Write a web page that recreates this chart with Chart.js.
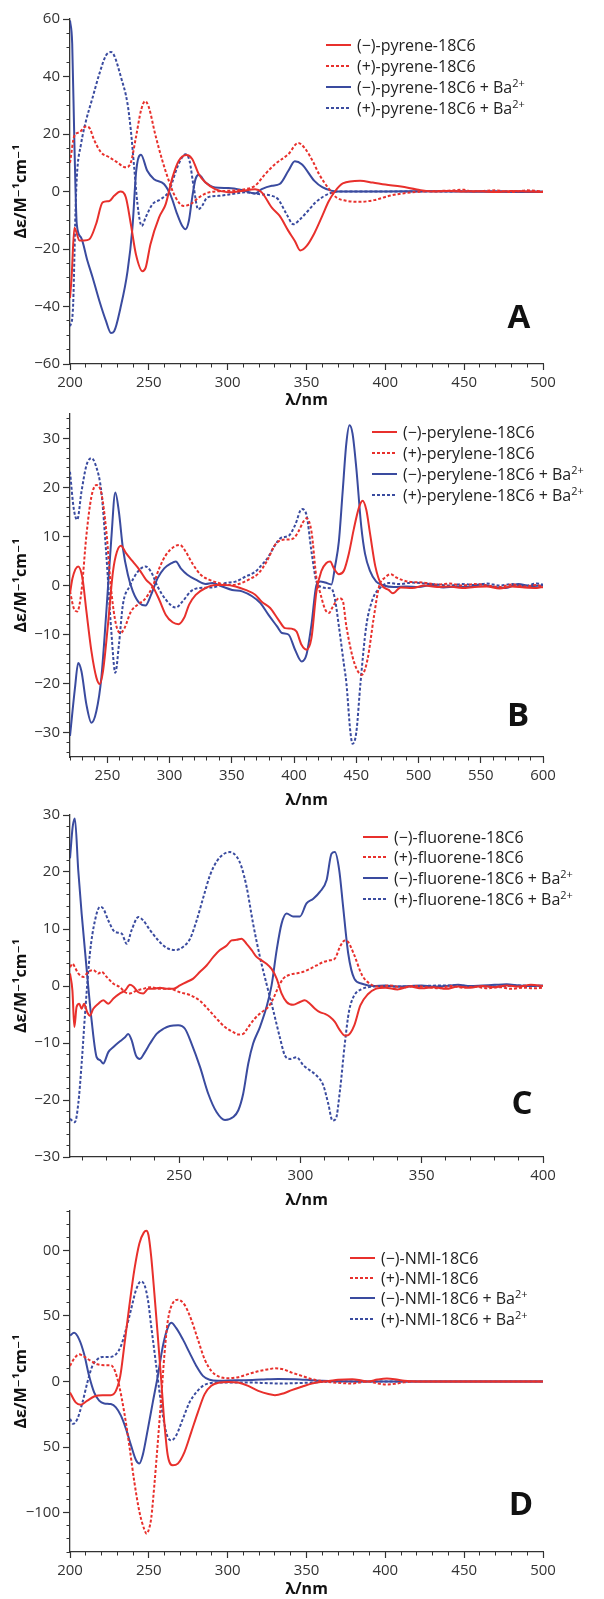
<!DOCTYPE html>
<html>
<head>
<meta charset="utf-8">
<title>CD spectra of the 18C6 hosts</title>
<script src="https://cdn.jsdelivr.net/npm/chart.js@4.4.1/dist/chart.umd.min.js"></script>
<style>
  html, body { margin: 0; padding: 0; background: #fff; }
  body { width: 604px; height: 1599px; position: relative; overflow: hidden; font-family: "Open Sans", "DejaVu Sans", sans-serif; }
  .panel { position: absolute; left: 0; width: 604px; }
  .panel canvas { display: block; }
  .legend-row { position: absolute; white-space: nowrap; display: flex; align-items: center; height: 20px; transform: translateY(-50%); font-size: 16px; color: #222; }
  .legend-row svg { margin-right: 6px; flex: none; }
  .legend-row sup { font-size: 11px; vertical-align: 6px; line-height: 0; }
  .tag { position: absolute; font-weight: 700; font-size: 33px; line-height: 1; color: #111; transform: translate(-50%, -50%); }
</style>
</head>
<body>
<div id="root"></div>
<script>
// CD spectra, four panels (A pyrene, B perylene, C fluorene, D NMI).
// Values: [wavelength nm, delta-epsilon].

const A_LABELS = ['(−)-pyrene-18C6', '(+)-pyrene-18C6', '(−)-pyrene-18C6 + Ba2+', '(+)-pyrene-18C6 + Ba2+'];
const B_LABELS = ['(−)-perylene-18C6', '(+)-perylene-18C6', '(−)-perylene-18C6 + Ba2+', '(+)-perylene-18C6 + Ba2+'];
const C_LABELS = ['(−)-fluorene-18C6', '(+)-fluorene-18C6', '(−)-fluorene-18C6 + Ba2+', '(+)-fluorene-18C6 + Ba2+'];
const D_LABELS = ['(−)-NMI-18C6', '(+)-NMI-18C6', '(−)-NMI-18C6 + Ba2+', '(+)-NMI-18C6 + Ba2+'];

// labelled ticks
const A_XTICKS = [200, 250, 300, 350, 400, 450, 500];
const A_YTICKS = [-60, -40, -20, 0, 20, 40, 60];
const B_XTICKS = [250, 300, 350, 400, 450, 500, 550, 600];
const B_YTICKS = [-30, -20, -10, 0, 10, 20, 30];
const C_XTICKS = [250, 300, 350, 400];
const C_YTICKS = [-30, -20, -10, 0, 10, 20, 30];
const D_XTICKS = [200, 250, 300, 350, 400, 450, 500];
const D_YTICKS = [-100, -50, 0, 50, 100];

// --- panel A: pyrene ---
const A_NEG = [[200,-37],[201,-30],[202.8,-12.6],[206,-17],[209,-17],[212.3,-16.6],[216.5,-11.4],[220.7,-3.8],[225,-3.3],[228,-1.5],[232,0],[235.4,-2],[238.6,-11.4],[241.8,-21.8],[246,-27.7],[248,-26.5],[251,-18.4],[256.5,-9],[260.7,-4.4],[265,4.9],[269,10.7],[274,12.7],[277.5,11.3],[281.7,6],[286,3.1],[292,0.8],[300.6,-0.3],[309,0.2],[317.4,0.8],[321.6,-0.3],[328,-5.6],[333,-8.5],[338.5,-13.7],[342.6,-17.2],[346,-20.5],[350,-19],[355,-14.5],[360,-8.5],[364,-3.5],[368,0],[373,2.8],[384,3.7],[392,3.1],[400,2.4],[410,1.7],[420,0.7],[430,0],[440,0.2],[450,0],[460,0.1],[470,-0.2],[480,0.2],[490,0],[500,-0.2]];
const A_POS = [[200,10],[202.8,19.4],[206,20.6],[210,22.6],[212,22.3],[215.5,17.7],[219.7,13.6],[225,11.9],[230,10.1],[235.4,8.4],[238.6,10.1],[241.8,18.8],[245,28.1],[247.6,31.4],[250,29.3],[254,20],[258.6,10.7],[262.7,3.7],[267,-2.1],[272,-5],[276.4,-4.4],[281.7,-2.1],[288,-0.3],[298.5,0.2],[311,0.8],[317.4,2],[323.7,6],[330,9.5],[338.5,13],[344.8,16.9],[349,15],[354,10.5],[358,6],[364.4,0.8],[369,-2.1],[375,-3.2],[383,-3.6],[393,-3],[402.5,-1.5],[412,-0.6],[424.5,0],[440,0.3],[450,0.6],[455,0],[470,0.4],[480,-0.2],[490,0.4],[500,0]];
const A_NEG_BA = [[200,59.5],[201.4,51.4],[202.8,16.5],[204.3,-11.4],[207,-16],[211,-24],[214.4,-30],[218.6,-38],[222.8,-45],[226,-49.2],[228,-48.6],[232,-40.5],[236.5,-27.7],[239.6,-12.6],[242,7.2],[245,12.8],[249,7.2],[253.3,4.3],[259.6,2.6],[264,-1.5],[268,-7.9],[271.2,-12],[273.3,-13.1],[275.4,-10.2],[277.5,-2.1],[279.6,4.3],[281.7,5.8],[286,3.1],[292,1.4],[300.6,1.2],[309,0.5],[317.4,-0.7],[321.6,0.8],[328,2],[333,2.6],[338.5,7.2],[342.6,10.5],[347,9.5],[355,3.7],[360,1.5],[365.6,0.3],[370,0],[400,0],[430,0.1],[460,-0.1],[500,-0.2]];
const A_POS_BA = [[200,-46.9],[201.8,-41.6],[203.5,-6.7],[204.3,4.9],[207,16.5],[210.2,24.7],[214.4,32.8],[218.6,40.9],[222.8,47.3],[226,48.5],[228,47.3],[232.3,39.8],[236.5,30.5],[238.6,21.2],[240.7,8.4],[242.8,-4.4],[245.5,-12],[248,-9],[252.3,-4.4],[257.5,-2.7],[262.8,0.2],[268,8.4],[271.2,11.9],[273.3,13],[275.8,10.7],[278.5,1.4],[281.3,-6.2],[283.8,-5],[287,-2.1],[294.3,-1.5],[302.8,-0.9],[311,-0.3],[319.6,-0.9],[328,-1.5],[332,-2.7],[337.4,-7.9],[341.6,-11.4],[345.8,-9.7],[351,-6.7],[355.3,-4],[360,-2],[365,-0.6],[370,0],[400,0],[430,0],[460,0.1],[500,0]];

// --- panel B: perylene ---
const B_NEG = [[220,-1.6],[222,1.5],[226.6,3.9],[230,1.5],[233.2,-5.3],[237.2,-13.4],[241.2,-18.8],[243.9,-20.1],[246.5,-17.5],[250.5,-8],[254.5,2.8],[257.7,6.9],[261,8.1],[265,6.6],[270.4,4.9],[275.8,3.2],[281,1.2],[286.4,-0.2],[291.7,-2.9],[297,-6],[302.4,-7.5],[307.2,-7.9],[311.7,-6.6],[315.7,-3.9],[321,-1.9],[329,-0.5],[337,0.1],[345,0.1],[353,-0.2],[361,-0.9],[368.8,-1.9],[374,-3.3],[380.8,-4.6],[387.5,-7],[392.8,-8.7],[398,-8.8],[402,-9.4],[406,-12.1],[410,-13.1],[414,-10.7],[418,-1.2],[422,3],[426,4.6],[429,4.9],[432,3.5],[436,2.3],[440,3],[444,6.5],[448,11.5],[452,15.8],[455,17.3],[458,15.5],[461,10.7],[465.3,3.9],[470,0.2],[476,-0.9],[479.4,-1.6],[485.6,-0.4],[495,-0.5],[505,0],[515,-0.3],[525,-0.2],[535,-0.5],[545,-0.3],[555,-0.2],[565,-0.6],[575,-0.2],[585,-0.4],[595,-0.5],[600,-0.3]];
const B_POS = [[220,-1.2],[223,-4.6],[225.8,-5.3],[229.2,-1.2],[233.2,10.3],[237.2,18.1],[241.2,20.5],[245.2,18.8],[249.2,11],[253.2,-1.2],[257,-8],[260.6,-9.7],[263.8,-8.7],[269,-5.3],[274.4,-3.9],[279.8,-2.9],[286.4,-0.2],[291.7,3.5],[297,6.2],[303.6,7.9],[308.2,8.3],[313,6.9],[318.3,4.5],[325,2.2],[331.6,1.2],[339.6,0.5],[347.6,0.1],[355.5,0.3],[363.5,1.2],[371.5,2.5],[378,4.9],[384.8,8.3],[390,9.3],[395.5,9.4],[399.5,9.6],[403.5,11],[407.4,13],[410,13.7],[414,11],[418,1.5],[421,-1.5],[425,-4.9],[428,-5.6],[431.2,-4.3],[436,-2.6],[439,-3],[442,-8.3],[448.4,-15.8],[454.5,-18.2],[459,-15.1],[464,-6.6],[468.4,-0.1],[473,1.6],[477.7,2.3],[482.4,1.6],[491.6,0.8],[504,0.6],[515,0.2],[525,0.4],[535,0],[545,0.3],[555,0],[565,-0.3],[575,0.2],[585,-0.2],[595,0.1],[600,-0.4]];
const B_NEG_BA = [[220,-30.7],[224,-20.9],[226.6,-15.8],[229.2,-17.5],[233.2,-24.3],[237.2,-28],[241.2,-25.6],[245.2,-18.8],[249.2,-5.3],[253.2,9.6],[256.4,19],[259.3,15],[262.5,7.6],[266.5,2.2],[270.5,-1.2],[275.8,-3.6],[280.6,-4.1],[285.1,-1.9],[290.4,1.5],[295.7,3.5],[301,4.5],[305,4.9],[309,3.5],[314.3,2.2],[321,1.2],[329,0.3],[334.3,0.5],[342.3,-0.2],[350.3,-0.9],[358.3,-1.2],[366.3,-2.2],[373,-3.6],[379.5,-6],[386.2,-8.3],[390.3,-9.7],[395.5,-10],[400.8,-13.1],[406.2,-15.5],[410,-14.1],[414,-8],[418,0.1],[421,0.8],[425,0.6],[430,0.2],[433,4],[436,9],[439,19],[442,29],[444.5,32.7],[447,31],[450,24],[454,12],[457,6.5],[461,3],[466,0.8],[472,0],[480,-0.3],[490,-0.2],[500,-0.3],[510,0.1],[520,-0.4],[530,-0.2],[540,-0.3],[550,0.2],[560,-0.3],[570,-0.5],[580,0.3],[590,-0.1],[600,0]];
const B_POS_BA = [[220,23.2],[223,15.7],[225.8,13.4],[229.2,19.1],[233.2,24.5],[237.2,26],[240.7,24.5],[245.2,19.1],[249.2,6.2],[253.2,-9.4],[256.4,-17.8],[259.3,-12.1],[262.5,-3.9],[267.8,-0.2],[274.4,2.8],[280.6,3.9],[285.1,2.8],[290.4,-0.2],[297,-2.9],[305,-4.5],[310.3,-3.3],[317,-1.2],[323.6,-0.5],[334.3,-0.4],[345,0.5],[353,0.8],[361,1.8],[368.8,2.8],[374,4.2],[379.5,5.9],[384.8,8.3],[390,9.8],[395.5,10.1],[400.8,12.3],[406.2,15.6],[410,14.4],[414,6.9],[418,0.8],[422,-0.3],[426,-0.5],[430,-0.6],[433,-3],[436,-8.3],[440,-16],[442,-19.8],[445.3,-30],[447,-32.3],[450,-30],[453.4,-19.8],[458,-8.3],[463,-2.9],[469,-0.5],[476,0.5],[485,0.3],[495,0.6],[505,0.4],[515,0.2],[525,0],[535,0.3],[545,0.1],[555,0.4],[565,0],[575,0.3],[585,-0.1],[595,0.4],[600,0.2]];

// --- panel C: fluorene ---
const C_NEG = [[205,2.2],[206,-0.8],[206.8,-7.2],[207.7,-3.7],[208.8,-3.1],[209.8,-4],[210.8,-3.1],[212.1,-4.6],[213.2,-5.2],[214.6,-4],[216.7,-3.1],[218.7,-2.5],[220.8,-3.1],[222.9,-2.2],[225.6,-1.3],[227.7,-0.8],[229.7,0.2],[231.1,-0.1],[233.2,-1.1],[235.2,-1.3],[237.3,-0.5],[239.3,-0.5],[242.1,-0.3],[244.8,-0.5],[247.6,-0.5],[250.3,0.1],[253.1,0.7],[255.8,1.3],[258.6,2.5],[261.3,3.6],[264.1,5.1],[266.8,6.3],[269.6,7.1],[271.6,8],[273.7,8.1],[275.7,8.3],[277.8,7.4],[279.9,6.3],[281.9,5.1],[284,4.5],[286,3.9],[288.1,3],[290.2,1.3],[292.2,-1.3],[294.3,-2.8],[297,-3.3],[299.8,-2.8],[301.8,-2.5],[303.9,-3.1],[306,-4],[308,-4.6],[310.1,-4.9],[312.1,-5.4],[314.2,-6.3],[316.3,-7.8],[318.3,-8.7],[319.7,-8.6],[322.2,-6.9],[324.7,-3.4],[327.9,-1.4],[331,-0.5],[335,-0.3],[340,-0.6],[345,-0.1],[350,-0.4],[355,-0.2],[360,-0.5],[365,-0.1],[370,-0.3],[375,0],[380,-0.2],[385,0.1],[390,-0.1],[395,0.2],[400,0]];
const C_POS = [[205,3.3],[206.1,3.9],[207,3.3],[208.4,2.2],[210.5,1.6],[212.6,2.5],[214.6,2.8],[216.7,2.2],[218,2.5],[220.1,1.6],[222.9,0.4],[225.6,-0.2],[227.7,-1.1],[229.7,-1.3],[232.5,-0.8],[235.2,-0.5],[238,-0.2],[242.1,-0.5],[246.2,-0.5],[250.3,-1.1],[254.5,-1.6],[258.6,-2.6],[262,-4.1],[265.4,-5.7],[268.9,-7.2],[272.3,-8.1],[274.4,-8.5],[276.4,-8.4],[278.5,-7.2],[281.2,-5.7],[284,-4.6],[286.7,-3.7],[288.8,-2.2],[290.9,-0.2],[292.9,1.3],[295.7,2],[298.4,2.2],[301.2,2.5],[303.9,3],[306.6,3.6],[309.4,4.2],[312.1,4.5],[314.2,4.8],[316.3,6.9],[318.3,8],[319.7,7.7],[322.2,5.4],[325.4,1.9],[328.6,0.4],[332,-0.1],[337,0.1],[342,-0.3],[347,0],[352,-0.2],[357,-0.4],[362,0],[367,-0.3],[372,-0.1],[377,-0.4],[382,-0.2],[387,-0.5],[392,-0.3],[396,-0.4],[400,-0.3]];
const C_NEG_BA = [[205,22.4],[206.1,27.9],[207,29.4],[208.4,20.3],[209.8,12.7],[211.9,2.8],[213.9,-6],[216,-12.5],[217.4,-13],[218.7,-13.6],[220.8,-11.6],[222.9,-10.7],[225.6,-9.7],[227.7,-9],[229,-8.4],[230.4,-9.5],[232.2,-12.2],[233.8,-12.8],[235.9,-11.6],[238,-10.1],[240.7,-8.4],[243.5,-7.5],[246.2,-7],[249.6,-6.9],[252.4,-7.5],[255.1,-10.1],[258.6,-14.2],[262,-18.9],[265.4,-22.1],[268.9,-23.5],[272.3,-23],[274.4,-21.8],[276.4,-18.9],[278.5,-13.6],[280.5,-10.1],[283.3,-7.2],[286,-3.7],[288.1,0.1],[290.2,6.3],[292.2,10.9],[294.3,12.7],[297,12.2],[299.8,12.2],[302.5,14.5],[305.3,15.3],[308,16.5],[310.8,18.6],[312.8,23.2],[314.2,23.5],[316,20.3],[317.6,13.9],[319.7,5.7],[322.2,1.3],[325.4,0.4],[330,0],[335,0.1],[340,-0.1],[345,0],[350,0.1],[355,-0.1],[360,0],[365,0.2],[370,0],[375,0.1],[380,0.2],[385,0.3],[390,0.1],[395,0],[400,0.1]];
const C_POS_BA = [[205,-23.3],[207,-23.9],[208.4,-20.7],[209.8,-13.6],[211.2,-4.9],[213.2,5.7],[215.3,11.5],[217.4,13.9],[218.7,13.6],[220.8,11.5],[223.5,9.5],[226.3,9.2],[228.4,7.4],[230.4,9.8],[233.2,12.1],[235.2,11.5],[238,9.8],[241.4,8],[244.8,6.7],[248.3,6.3],[251.7,6.9],[254.5,8.3],[257.2,11.5],[260,15.6],[262.7,19.4],[265.4,21.8],[268.2,23.1],[270.9,23.5],[273.7,22.7],[275.7,20.9],[277.8,17.4],[280.5,10.9],[283.3,5.1],[286,0.4],[288.8,-4.3],[291.5,-9],[293.6,-12.2],[295.7,-12.8],[298.4,-12.5],[301.2,-13.9],[303.9,-14.8],[306.6,-15.7],[309.4,-17.4],[311.5,-20.7],[313.2,-23.6],[314.6,-23.3],[316.3,-18.3],[318.3,-10.1],[320,-4.5],[322,-1.8],[325,-0.6],[330,-0.1],[335,0],[340,-0.1],[350,0],[360,0.1],[370,0],[380,-0.1],[390,0.1],[400,0]];

// --- panel D: NMI ---
const D_NEG = [[200,-8.3],[203.6,-15.9],[206.8,-17.7],[211,-14.6],[215.3,-11.4],[220.6,-10.4],[225.9,-10.4],[229.1,-7.1],[231.9,4.3],[234.4,27],[237.6,57.3],[240.8,85.1],[244,105.3],[246.8,113.5],[248.4,115],[249.8,111.5],[251.5,95.2],[253.5,67.4],[255.7,34.6],[257.8,1.8],[260,-33.6],[262,-56.3],[265.2,-63.9],[268.4,-62.6],[272.6,-53.8],[276.9,-38.6],[281.1,-23.5],[285.4,-9.6],[289.6,-3.3],[295,-0.8],[300.2,-0.3],[306.6,-0.8],[313,-3.3],[319.4,-7.1],[325.8,-9.6],[330,-10.4],[335.3,-9.1],[340.6,-6.6],[347,-4],[353.4,-1.5],[358.7,-0.3],[364,0.3],[370,1.3],[379,1.8],[385,0.8],[389,0],[395,1.5],[401,2.3],[406,1.8],[412,0.6],[420,0],[450,0],[500,0]];
const D_POS = [[200,11.9],[202.6,17.4],[205.8,20.7],[209,18.9],[213.2,15.7],[217.4,13.1],[221.7,12.4],[225.9,12.4],[228.5,8.1],[231.2,-3.3],[234.4,-23.5],[237.6,-48.7],[240.8,-76.5],[244,-99.2],[247.2,-113],[248.6,-116],[250.2,-112],[251.5,-104.3],[253.5,-79],[255.7,-46.2],[257.8,-13.4],[260,22],[262,46],[265.2,59.8],[268.4,62.4],[272.6,58.6],[276.9,47.2],[281.1,32.1],[285.4,16.9],[289.6,8.1],[295,3.5],[300.2,2.5],[306.6,3.3],[313,5.6],[319.4,7.8],[325.8,9.3],[330,10.1],[335.3,9.3],[340.6,6.8],[347,4.3],[353.4,1.8],[358.7,0.5],[364,-0.3],[370,-1],[379,-1.5],[385,-0.5],[389,0],[395,-1.5],[401,-2.3],[406,-1.8],[412,-0.6],[420,0],[450,0],[500,0]];
const D_NEG_BA = [[200,35.1],[202.6,37.1],[205.8,32.1],[209,20.7],[212.1,4.3],[215.3,-8.3],[218.5,-14.6],[221.7,-16.7],[225.9,-17.2],[229.1,-19.7],[232.3,-26],[235.5,-36.1],[238.7,-48.7],[241.9,-60.1],[244,-62.6],[246.1,-56.3],[249.4,-36.1],[252.5,-15.9],[255.7,4.3],[258.9,27],[261.6,39.6],[264.2,44.7],[267.3,40.9],[271.6,32.1],[275.8,22],[280.1,11.9],[284.3,4.3],[288.5,1.3],[293.9,0.5],[300.2,0.8],[310.8,1],[321.4,1.5],[332,2],[342.7,1.8],[353.4,1],[360,0.5],[370,0.2],[400,0],[450,0],[500,0]];
const D_POS_BA = [[200,-28.5],[202,-32.3],[204.7,-28.5],[207.9,-15.9],[211,-0.8],[214.2,11.9],[217.4,16.9],[220.6,18.7],[224.9,18.7],[229.1,20.7],[232.3,27],[235.5,39.6],[238.7,54.8],[241.9,69.9],[245,76.3],[247.2,73.7],[249.4,62.4],[251.5,42.2],[254.7,11.9],[256.8,-8.3],[258.9,-26],[261.6,-41.2],[264.2,-44.9],[267.3,-41.2],[271.6,-28.5],[275.8,-15.9],[280.1,-8.3],[284.3,-3.3],[288.5,-1.3],[293.9,-0.8],[304.5,-0.8],[315,-0.8],[325.8,-1.3],[334.2,-1.5],[342.7,-1.3],[353.4,-0.8],[360,-0.3],[370,0],[400,0],[450,0],[500,0]];

const RED = '#e8302c';
const BLUE = '#3a4b9f';
const AXIS = '#333333';
const TICK_TEXT = '#333333';
const SERIES_STYLE = [
  { color: RED, dash: [] },
  { color: RED, dash: [3, 2] },
  { color: BLUE, dash: [] },
  { color: BLUE, dash: [3, 2] }
];

// layout of the four stacked panels (page pixels)
const PANELS = [
  { id: 'A', top: 0, height: 410, area: [19, 364], x: [200, 500], y: [-60, 60],
    xTicks: A_XTICKS, yTicks: A_YTICKS, yMinor: 5,
    series: [A_NEG, A_POS, A_NEG_BA, A_POS_BA], labels: A_LABELS,
    legendX: 326, legendY: [45, 66, 87, 108], tag: [519, 315] },
  { id: 'B', top: 400, height: 410, area: [414, 757], x: [220, 600], y: [-35, 35],
    xTicks: B_XTICKS, yTicks: B_YTICKS, yMinor: 2,
    series: [B_NEG, B_POS, B_NEG_BA, B_POS_BA], labels: B_LABELS,
    legendX: 372, legendY: [432, 453, 474, 495], tag: [518, 713] },
  { id: 'C', top: 800, height: 410, area: [815, 1157], x: [205, 400], y: [-30, 30],
    xTicks: C_XTICKS, yTicks: C_YTICKS, yMinor: 2,
    series: [C_NEG, C_POS, C_NEG_BA, C_POS_BA], labels: C_LABELS,
    legendX: 363, legendY: [837, 857, 878, 899], tag: [522, 1101] },
  { id: 'D', top: 1199, height: 400, area: [1209, 1552], x: [200, 500], y: [-130, 130],
    xTicks: D_XTICKS, yTicks: D_YTICKS, yMinor: 10,
    series: [D_NEG, D_POS, D_NEG_BA, D_POS_BA], labels: D_LABELS,
    legendX: 350, legendY: [1258, 1278, 1298, 1319], tag: [521, 1502], clip: true }
];

const PLOT_LEFT = 70;
const PLOT_RIGHT = 543;
const X_MINOR = 10;

Chart.defaults.font.family = '"Open Sans", "DejaVu Sans", sans-serif';
Chart.defaults.color = TICK_TEXT;

const minusSign = v => String(v).replace('-', '\u2212');

// explicit tick lists: labelled ones from the arrays, unlabelled ones every `step`
const fixedTicks = list => scale => { scale.ticks = list.map(v => ({ value: v })); };
const stepTicks = step => scale => {
  const out = [];
  for (let v = Math.ceil(scale.min / step) * step; v <= scale.max + 1e-9; v += step) out.push({ value: v });
  scale.ticks = out;
};

// the bottom-left tick labels of panel D are partly cut away in the figure
const clipLabels = {
  id: 'clipLabels',
  afterDraw(chart, args, opts) {
    if (!opts.active) return;
    const { ctx, scales } = chart;
    ctx.save();
    ctx.fillStyle = '#fff';
    ctx.fillRect(opts.from, 0, opts.to - opts.from, scales.y.getPixelForValue(-75));
    ctx.restore();
  }
};

function legendHTML(text) {
  return text.replace(/Ba2\+$/, 'Ba<sup>2+</sup>');
}

function sampleSVG(style) {
  const dash = style.dash.length ? ` stroke-dasharray="${style.dash.join(' ')}"` : '';
  return `<svg width="25" height="4" viewBox="0 0 25 4"><line x1="0" y1="2" x2="25" y2="2" stroke="${style.color}" stroke-width="2"${dash}/></svg>`;
}

function renderPanel(p) {
  const root = document.getElementById('root');
  const wrap = document.createElement('div');
  wrap.className = 'panel';
  wrap.style.top = p.top + 'px';
  wrap.style.height = p.height + 'px';
  const canvas = document.createElement('canvas');
  canvas.width = 604;
  canvas.height = p.height;
  wrap.appendChild(canvas);
  root.appendChild(wrap);

  // legend and panel letter as plain html text
  p.labels.forEach((label, i) => {
    const row = document.createElement('div');
    row.className = 'legend-row';
    row.style.left = p.legendX + 'px';
    row.style.top = p.legendY[i] + 'px';
    row.innerHTML = sampleSVG(SERIES_STYLE[i]) + '<span>' + legendHTML(label) + '</span>';
    root.appendChild(row);
  });
  const tag = document.createElement('div');
  tag.className = 'tag';
  tag.style.left = p.tag[0] + 'px';
  tag.style.top = p.tag[1] + 'px';
  tag.textContent = p.id;
  root.appendChild(tag);

  const padTop = p.area[0] - p.top;
  const xAxisHeight = p.top + p.height - p.area[1];

  new Chart(canvas, {
    type: 'line',
    data: {
      datasets: p.series.map((pts, i) => ({
        label: p.labels[i],
        data: pts.map(([x, y]) => ({ x, y })),
        borderColor: SERIES_STYLE[i].color,
        borderDash: SERIES_STYLE[i].dash,
        borderWidth: 2,
        pointRadius: 0,
        fill: false,
        cubicInterpolationMode: 'monotone'
      }))
    },
    options: {
      responsive: false,
      animation: false,
      devicePixelRatio: 1,
      layout: { padding: { top: padTop, right: 604 - PLOT_RIGHT, bottom: 0, left: 0 } },
      plugins: {
        legend: { display: false },
        tooltip: { enabled: false },
        clipLabels: { active: !!p.clip, from: 29, to: 43.5 }
      },
      scales: {
        x: {
          type: 'linear', position: 'bottom', min: p.x[0], max: p.x[1], weight: 1,
          afterBuildTicks: fixedTicks(p.xTicks),
          afterFit: s => { s.height = xAxisHeight; },
          grid: { drawOnChartArea: false, tickLength: 6, tickColor: AXIS, tickWidth: 1.2 },
          border: { display: true, color: AXIS, width: 1.3 },
          ticks: { autoSkip: false, maxRotation: 0, padding: 4, font: { size: 15 } },
          title: { display: true, text: 'λ/nm', color: '#111', font: { size: 16, weight: 'bold' }, padding: 0 }
        },
        xMinor: {
          type: 'linear', position: 'bottom', min: p.x[0], max: p.x[1], weight: 0,
          afterBuildTicks: stepTicks(X_MINOR),
          afterFit: s => { s.height = 0; },
          grid: { drawOnChartArea: false, tickLength: 3.5, tickColor: AXIS, tickWidth: 1 },
          border: { display: false },
          ticks: { autoSkip: false, display: false }
        },
        y: {
          type: 'linear', position: 'left', min: p.y[0], max: p.y[1], weight: 1,
          afterBuildTicks: fixedTicks(p.yTicks),
          afterFit: s => { s.width = PLOT_LEFT; },
          grid: { drawOnChartArea: false, tickLength: 7, tickColor: AXIS, tickWidth: 1.2 },
          border: { display: true, color: AXIS, width: 1.3 },
          ticks: { autoSkip: false, padding: 3, font: { size: 15 }, callback: minusSign },
          title: { display: true, text: 'Δε/M⁻¹cm⁻¹', color: '#111', font: { size: 16, weight: 'bold' }, padding: { top: 12, bottom: 0 } }
        },
        yMinor: {
          type: 'linear', position: 'left', min: p.y[0], max: p.y[1], weight: 0,
          afterBuildTicks: stepTicks(p.yMinor),
          afterFit: s => { s.width = 0; },
          grid: { drawOnChartArea: false, tickLength: 3.5, tickColor: AXIS, tickWidth: 1 },
          border: { display: false },
          ticks: { autoSkip: false, display: false }
        }
      }
    },
    plugins: [clipLabels]
  });
}

PANELS.forEach(renderPanel);
</script>
</body>
</html>
